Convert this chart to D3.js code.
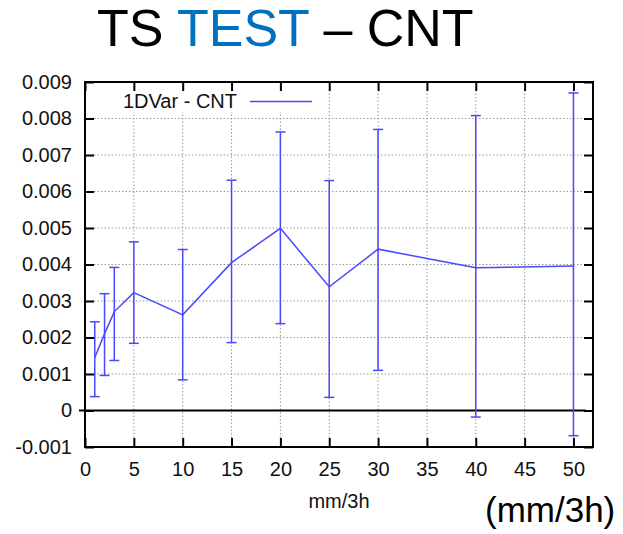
<!DOCTYPE html>
<html>
<head>
<meta charset="utf-8">
<script src="https://cdn.jsdelivr.net/npm/d3@7"></script>
<style>
  body { margin: 0; background: #fff; }
  text { font-family: "Liberation Sans", Arial, Helvetica, sans-serif; }
</style>
</head>
<body>
<svg id="chart" width="623" height="534"></svg>
<script>
// rain-rate classes (mm/3h)
var rates = [1, 2, 3, 5, 10, 15, 20, 25, 30, 40, 50];
// 1DVar - CNT mean difference
var means = [0.00145, 0.0021, 0.00271, 0.00323, 0.00262, 0.00405, 0.00499, 0.00339, 0.00442, 0.00391, 0.00396];
// error bar ends
var lows  = [0.00038, 0.00096, 0.00137, 0.00184, 0.00084, 0.00186, 0.00238, 0.00036, 0.0011, -0.00018, -0.00069];
var highs = [0.00243, 0.0032, 0.00392, 0.00462, 0.00441, 0.00631, 0.00763, 0.0063, 0.0077, 0.00808, 0.0087];

var xTicks = [0, 5, 10, 15, 20, 25, 30, 35, 40, 45, 50];
var yTicks = [-0.001, 0, 0.001, 0.002, 0.003, 0.004, 0.005, 0.006, 0.007, 0.008, 0.009];

var svg = d3.select("#chart");
var blue = "#4848ff";

var margin = { top: 82, left: 85, right: 30, bottom: 87 };
var W = 623, H = 534;

var x = d3.scaleLinear().domain([0, 52]).range([margin.left, W - margin.right]);
var y = d3.scaleLinear().domain([-0.001, 0.009]).range([H - margin.bottom, margin.top]);

// title
var title = svg.append("text")
  .attr("x", 97).attr("y", 46)
  .style("font-size", "52px");
title.append("tspan").attr("fill", "#000").text("TS ");
title.append("tspan").attr("fill", "#0070c0").text("TEST");
title.append("tspan").attr("fill", "#000").text(" \u2013 CNT");

var tk = 9;

// grid
var grid = svg.append("g")
  .attr("stroke", "#999")
  .attr("stroke-width", 1)
  .attr("stroke-dasharray", "1.5,2");

grid.selectAll(".gy")
  .data(yTicks.filter(function(d) { return d > -0.001 && d < 0.009 && d !== 0; }))
  .enter().append("line")
  .attr("x1", x(0) + tk).attr("x2", x(52) - tk)
  .attr("y1", function(d) { return y(d); })
  .attr("y2", function(d) { return y(d); });

grid.selectAll(".gx")
  .data(xTicks.filter(function(d) { return d > 0; }))
  .enter().append("line")
  .attr("x1", function(d) { return x(d); })
  .attr("x2", function(d) { return x(d); })
  .attr("y1", y(-0.001) - tk).attr("y2", y(0.009) + tk);

// legend background hides grid
svg.append("rect")
  .attr("x", x(0) + 2).attr("y", y(0.009) + tk - 1)
  .attr("width", 228).attr("height", 22)
  .attr("fill", "#fff");

// axes with inward ticks
var fmt = function(d) { return d === 0 ? "0" : d3.format(".3f")(d).replace("\u2212", "-"); };

var axBottom = svg.append("g")
  .attr("transform", "translate(0," + y(-0.001) + ")")
  .call(d3.axisBottom(x).tickValues(xTicks).tickSize(-tk).tickSizeOuter(0).tickPadding(15));
var axTop = svg.append("g")
  .attr("transform", "translate(0," + y(0.009) + ")")
  .call(d3.axisTop(x).tickValues(xTicks).tickSize(-tk).tickSizeOuter(0).tickFormat(""));
var axLeft = svg.append("g")
  .attr("transform", "translate(" + x(0) + ",0)")
  .call(d3.axisLeft(y).tickValues(yTicks).tickSize(-tk).tickSizeOuter(0).tickPadding(13).tickFormat(fmt));
var axRight = svg.append("g")
  .attr("transform", "translate(" + x(52) + ",0)")
  .call(d3.axisRight(y).tickValues(yTicks).tickSize(-tk).tickSizeOuter(0).tickFormat(""));

[axBottom, axTop, axLeft, axRight].forEach(function(g) {
  g.select(".domain").remove();
  g.selectAll(".tick line").attr("stroke", "#000").attr("stroke-width", 2);
  g.selectAll(".tick text").attr("fill", "#111").style("font-size", "20px")
    .style("font-family", "'Liberation Sans', Arial, sans-serif");
});

// zero line
svg.append("line")
  .attr("x1", x(0) - 6).attr("x2", x(51.25))
  .attr("y1", y(0)).attr("y2", y(0))
  .attr("stroke", "#000").attr("stroke-width", 2);

// frame
svg.append("rect")
  .attr("x", x(0)).attr("y", y(0.009))
  .attr("width", x(52) - x(0)).attr("height", y(-0.001) - y(0.009))
  .attr("fill", "none").attr("stroke", "#000").attr("stroke-width", 2);

// data
var pts = rates.map(function(r, i) {
  return { r: r, m: means[i], lo: lows[i], hi: highs[i] };
});

var bars = svg.append("g")
  .attr("stroke", blue).attr("stroke-width", 1.5).attr("fill", "none");

var cap = 5;
var eb = bars.selectAll("g").data(pts).enter().append("g");
eb.append("line")
  .attr("x1", function(d) { return x(d.r); }).attr("x2", function(d) { return x(d.r); })
  .attr("y1", function(d) { return y(d.lo); }).attr("y2", function(d) { return y(d.hi); });
eb.append("line")
  .attr("x1", function(d) { return x(d.r) - cap; }).attr("x2", function(d) { return x(d.r) + cap; })
  .attr("y1", function(d) { return y(d.lo); }).attr("y2", function(d) { return y(d.lo); });
eb.append("line")
  .attr("x1", function(d) { return x(d.r) - cap; }).attr("x2", function(d) { return x(d.r) + cap; })
  .attr("y1", function(d) { return y(d.hi); }).attr("y2", function(d) { return y(d.hi); });

var line = d3.line()
  .x(function(d) { return x(d.r); })
  .y(function(d) { return y(d.m); });

svg.append("path")
  .datum(pts)
  .attr("d", line)
  .attr("fill", "none")
  .attr("stroke", blue)
  .attr("stroke-width", 1.5);

// legend
svg.append("text")
  .attr("x", 237).attr("y", 108)
  .attr("text-anchor", "end")
  .attr("fill", "#111")
  .style("font-size", "20px")
  .text("1DVar - CNT");
svg.append("line")
  .attr("x1", 250).attr("x2", 312)
  .attr("y1", 101.5).attr("y2", 101.5)
  .attr("stroke", blue).attr("stroke-width", 1.5);

// axis label
svg.append("text")
  .attr("x", (x(0) + x(52)) / 2).attr("y", 508)
  .attr("text-anchor", "middle")
  .attr("fill", "#111")
  .style("font-size", "20px")
  .text("mm/3h");

svg.append("text")
  .attr("x", 485).attr("y", 522)
  .attr("fill", "#000")
  .style("font-size", "35px")
  .text("(mm/3h)");
</script>
</body>
</html>
